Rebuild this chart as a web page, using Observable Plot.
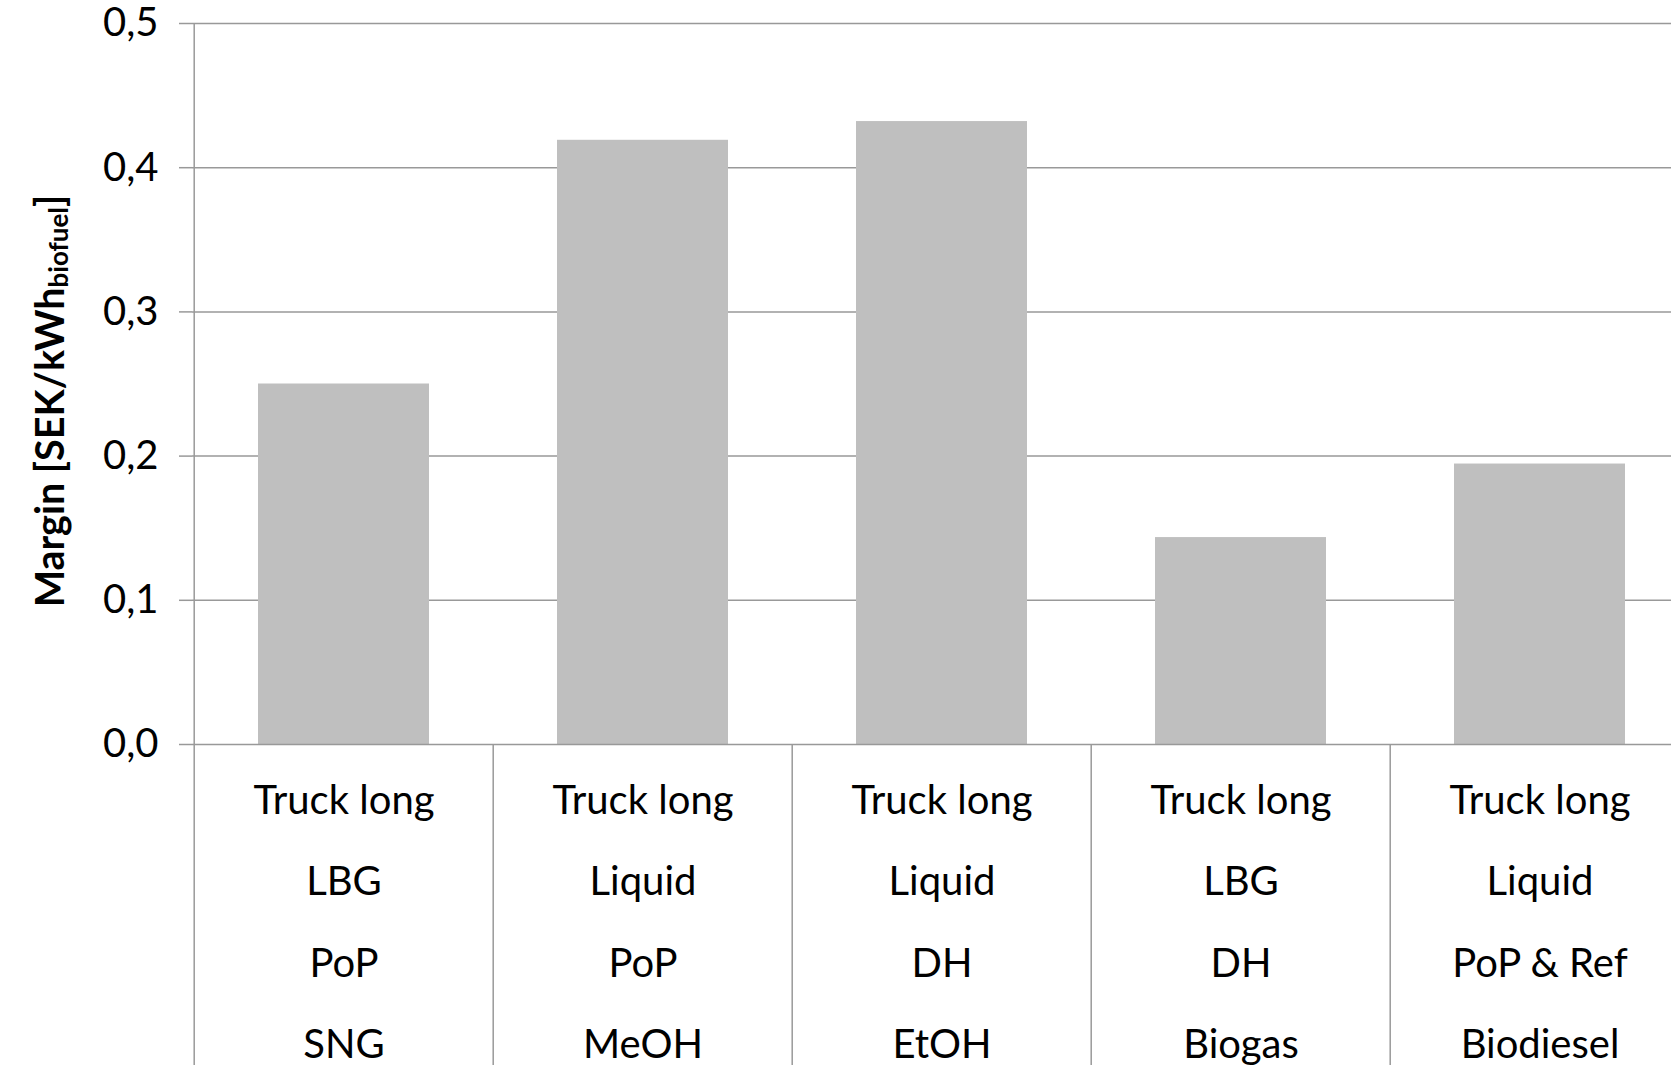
<!DOCTYPE html>
<html><head><meta charset="utf-8">
<script src="https://cdn.jsdelivr.net/npm/d3@7"></script>
<script src="https://cdn.jsdelivr.net/npm/@observablehq/plot@0.6"></script>
<style>html,body{margin:0;padding:0;background:#fff;overflow:hidden}</style>
</head><body><div id="chart"></div>
<script>
const vehicle = ["Truck long", "Truck long", "Truck long", "Truck long", "Truck long"];
const fuelForm = ["LBG", "Liquid", "Liquid", "LBG", "Liquid"];
const site = ["PoP", "PoP", "DH", "DH", "PoP & Ref"];
const biofuel = ["SNG", "MeOH", "EtOH", "Biogas", "Biodiesel"];
const marginValues = [0.250, 0.419, 0.432, 0.1435, 0.1945];
const yTicks = [0, 0.1, 0.2, 0.3, 0.4, 0.5];
const yTickLabels = ["0,0", "0,1", "0,2", "0,3", "0,4", "0,5"];
const yTitleMain = "Margin [SEK/kWh";
const yTitleSub = "biofuel";
const yTitleEnd = "]";

const categories = vehicle.map((v, i) => [v, fuelForm[i], site[i], biofuel[i]].join("\n"));
const data = categories.map((c, i) => ({category: c, value: marginValues[i]}));

const W = 1671, H = 1065, mL = 192, mT = 23, mB = 321;
const step = 299.6;
const p = 1 - 1 / 1.75;
const gridColor = "#999999";

const plot = Plot.plot({
  width: W, height: H,
  marginLeft: mL, marginRight: 0, marginTop: mT, marginBottom: mB,
  style: {fontFamily: "Lato", fontSize: "40px", color: "#000", background: "#fff", overflow: "visible"},
  x: {domain: categories, range: [mL, mL + step * categories.length], paddingInner: p, paddingOuter: p / 2, align: 0.5},
  y: {domain: [0, 0.5]},
  marks: [
    Plot.ruleY(yTicks.slice(1), {stroke: gridColor, strokeWidth: 1.5}),
    Plot.barY(data, {x: "category", y: "value", fill: "#bfbfbf"}),
    Plot.ruleY([0], {stroke: gridColor, strokeWidth: 1.5}),
    Plot.ruleX(categories, {x: d => d, dx: -step / 2, y1: -0.25, y2: 0, stroke: gridColor, strokeWidth: 1.5}),
    Plot.ruleX([categories[0]], {x: d => d, dx: -step / 2, y1: 0, y2: 0.5, stroke: gridColor, strokeWidth: 1.5}),
    Plot.axisY({ticks: yTicks, tickFormat: (d, i) => yTickLabels[i], tickSize: 13, tickPadding: 21, stroke: gridColor, strokeWidth: 1.5, label: null, fontSize: 40, fill: "#000"}),
    Plot.axisX({tickSize: 0, tickPadding: 12, lineHeight: 2.03, label: null, fontSize: 40, fill: "#000"})
  ]
});
document.getElementById("chart").appendChild(plot);

const svg = d3.select(plot.tagName.toLowerCase() === "svg" ? plot : plot.querySelector("svg"));
const t = svg.append("text")
  .attr("transform", "translate(48,401) rotate(-90)")
  .attr("text-anchor", "middle")
  .attr("dominant-baseline", "central")
  .attr("font-family", "Lato")
  .attr("font-weight", "bold")
  .attr("font-size", 39.5)
  .attr("fill", "#000");
t.append("tspan").text(yTitleMain);
t.append("tspan").attr("font-size", 26).attr("dy", 10).text(yTitleSub);
t.append("tspan").attr("dy", -10).text(yTitleEnd);
</script>
</body></html>
